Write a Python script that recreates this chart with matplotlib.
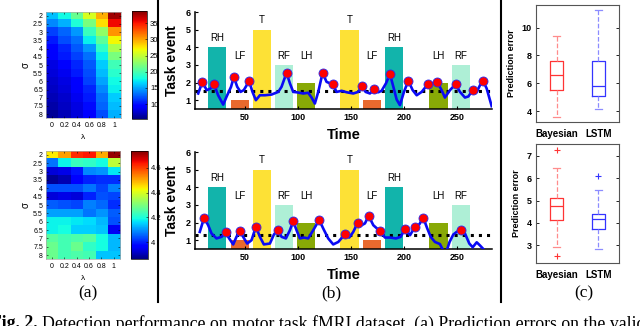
import numpy as np
import matplotlib.pyplot as plt
from matplotlib.lines import Line2D

plt.rcParams['font.family'] = ['Liberation Sans', 'DejaVu Sans']

# ---------------- data ----------------
# (a) prediction error over lambda / sigma grid
lambdas = ['0', '0.2', '0.4', '0.6', '0.8', '1']
sigmas = ['2', '2.5', '3', '3.5', '4', '4.5', '5', '5.5', '6', '6.5', '7', '7.5', '8']

err_grid_1 = [
    [15.8, 17.9, 21.3, 25.8, 29.7, 37.9],
    [14.0, 15.3, 18.4, 22.0, 28.0, 35.5],
    [11.7, 12.9, 14.5, 19.4, 23.0, 30.5],
    [10.4, 12.0, 13.3, 17.4, 20.8, 27.0],
    [9.5, 10.7, 12.4, 14.5, 19.0, 24.0],
    [9.0, 10.3, 11.7, 13.3, 17.4, 22.0],
    [8.3, 9.5, 10.7, 12.4, 16.2, 19.7],
    [8.0, 8.7, 10.3, 12.0, 15.7, 18.7],
    [7.6, 8.3, 9.5, 11.7, 15.0, 17.9],
    [7.3, 8.0, 9.0, 10.7, 14.0, 17.4],
    [7.0, 7.6, 8.7, 10.3, 13.3, 16.2],
    [6.6, 7.3, 8.3, 9.8, 12.9, 15.7],
    [6.0, 7.0, 8.0, 9.5, 12.0, 15.3],
]

err_grid_2 = [
    [4.44, 4.51, 4.62, 4.64, 4.50, 4.72],
    [4.07, 4.18, 4.23, 4.22, 4.19, 4.37],
    [3.93, 3.94, 3.99, 4.09, 4.10, 4.17],
    [3.88, 3.90, 3.96, 4.00, 4.01, 4.01],
    [4.04, 4.04, 4.04, 4.07, 4.03, 4.08],
    [3.93, 3.94, 3.93, 4.00, 4.04, 4.03],
    [4.05, 4.04, 4.03, 4.08, 4.06, 4.01],
    [4.11, 4.11, 4.11, 4.07, 4.10, 4.05],
    [4.18, 4.18, 4.17, 4.16, 4.13, 4.04],
    [4.18, 4.19, 4.15, 4.15, 4.14, 3.95],
    [4.26, 4.24, 4.25, 4.26, 4.19, 4.13],
    [4.28, 4.24, 4.28, 4.22, 4.19, 4.13],
    [4.28, 4.24, 4.25, 4.24, 4.14, 4.14],
]

# (b) task blocks
block_names = ['RH', 'LF', 'T', 'RF', 'LH', 'T', 'LF', 'RH', 'LH', 'RF']
block_start = [15, 36.5, 57.5, 78, 99, 140, 161, 182, 224, 245]
block_height = [4, 1, 5, 3, 2, 5, 1, 4, 2, 3]
block_width = 17.5
block_colors = {'RH': '#12b4ab', 'LF': '#e8692e', 'T': '#fde136',
                'RF': '#aeefd6', 'LH': '#88a906'}
label_y = {'RH': 4.55, 'T': 5.55, 'LF': 3.53, 'RF': 3.53, 'LH': 3.53}

sig1_t = [6, 10, 14, 17.6, 21, 24.8, 29.6, 32.7, 37, 39.6, 42.8, 45.9, 49, 54,
          57.2, 60.4, 64.2, 68.9, 75.2, 81.5, 84.6, 89.3, 92.5, 95.6, 98.7, 105,
          109.7, 112.9, 116, 119.2, 123.3, 127, 132.7, 136.5, 141.2, 145.9, 152.2,
          156.9, 160.7, 163.8, 167.9, 172, 175.8, 178.9, 183, 186.8, 190, 193.1,
          196.2, 200, 204.1, 208.2, 212, 216.7, 222.3, 226.7, 231.4, 235.5, 238.6,
          243.4, 248.7, 252.8, 257.5, 260.7, 264.8, 268.6, 271.7, 274.8, 278, 282.7]
sig1_v = [1.38, 2.04, 1.57, 1.66, 1.89, 1.28, 0.75, 1.19, 1.76, 2.32, 1.76, 1.47, 1.57, 2.08,
          1.47, 1.0, 1.28, 1.28, 1.32, 1.47, 1.76, 2.55, 1.95, 1.47, 1.45, 1.38,
          1.42, 1.15, 0.81, 1.47, 2.55, 2.04, 1.89, 1.47, 1.53, 1.45, 1.38,
          1.47, 1.8, 1.47, 1.38, 1.61, 1.45, 1.53, 1.95, 2.48, 1.76, 1.04,
          0.72, 1.47, 2.1, 1.57, 1.28, 1.47, 1.89, 1.95, 2.02, 1.57, 1.15,
          1.57, 1.91, 1.47, 1.15, 1.21, 1.57, 1.47, 1.85, 2.08, 1.66, 0.66]
peak1_t = [10, 21, 39.6, 54, 89.3, 123.3, 132.7, 160.7, 172, 186.8, 204.1,
           222.3, 231.4, 248.7, 264.8, 274.8]
peak1_v = [2.04, 1.89, 2.32, 2.08, 2.55, 2.55, 1.89, 1.8, 1.61, 2.48, 2.1,
           1.89, 2.02, 1.91, 1.57, 2.08]
thresh1 = 1.52

sig2_t = [7.5, 11.6, 15.4, 18.6, 23.3, 28, 31.8, 35.2, 39, 42.1, 45.3, 48.4, 52.2,
          56.3, 60.4, 64.2, 67.9, 73.6, 77.4, 81.1, 84.6, 88.7, 92.5, 95.6, 98.7,
          101.9, 105.7, 109.7, 114.5, 120.1, 123.9, 128.6, 133.3, 138.1, 144.3,
          148.4, 152.2, 156.3, 160.1, 163.2, 166.7, 171.1, 177.4, 182.1, 186.8,
          192.5, 196.9, 201, 205.7, 210.4, 214.5, 218.2, 222, 225.2, 229.2, 233.9,
          237.1, 240, 243, 246.5, 249.7, 253.8, 257.5, 261.6, 264.8, 268.6, 271.7, 274.8]
sig2_v = [1.47, 2.27, 1.85, 1.38, 1.1, 1.19, 1.44, 1.1, 0.76, 1.19, 1.51, 1.19, 0.81,
          1.0, 1.76, 1.19, 0.76, 0.81, 1.32, 1.59, 1.19, 1.1, 1.57, 2.08, 1.57,
          1.1, 1.15, 1.1, 1.57, 2.15, 1.66, 1.1, 0.76, 0.9, 1.34,
          1.15, 1.47, 1.98, 1.85, 1.95, 2.38, 1.85, 1.51, 1.15, 1.15,
          1.1, 1.19, 1.63, 1.28, 1.76, 1.9, 2.27, 1.66, 1.19, 0.9, 0.78,
          0.4, 0.35, 0.9, 1.32, 1.47, 1.57, 1.38, 0.81, 0.6, 0.88, 0.7, 0.5]
peak2_t = [11.6, 31.8, 45.3, 60.4, 81.1, 95.6, 120.1, 144.3, 156.3, 166.7,
           177.4, 201, 210.4, 218.2, 253.8]
peak2_v = [2.27, 1.44, 1.51, 1.76, 1.59, 2.08, 2.15, 1.34, 1.98, 2.38,
           1.51, 1.63, 1.76, 2.27, 1.57]
thresh2 = 1.27

# (c) prediction error box statistics
methods = ['Bayesian', 'LSTM']
med_1 = [6.6, 5.8]
q1_1 = [5.52, 5.11]
q3_1 = [7.61, 7.58]
lo_1 = [3.59, 4.12]
hi_1 = [9.4, 11.3]
out_1 = [[], []]

med_2 = [4.76, 4.16]
q1_2 = [4.13, 3.71]
q3_2 = [5.09, 4.42]
lo_2 = [2.91, 2.85]
hi_2 = [6.46, 5.49]
out_2 = [[7.26, 2.52], [6.09]]

# ---------------- figure ----------------
W, H = 640, 326
fig = plt.figure(figsize=(6.4, 3.26), dpi=100)


def rect(x0, y0, x1, y1):
    # pixel box (top-left origin) -> figure fraction
    return [x0 / W, (H - y1) / H, (x1 - x0) / W, (y1 - y0) / H]


def heatmap(ax_rect, cb_rect, grid, vmin, vmax, cticks, clabels):
    ax = fig.add_axes(rect(*ax_rect))
    im = ax.imshow(np.array(grid), cmap='jet', vmin=vmin, vmax=vmax,
                   aspect='auto', interpolation='nearest')
    ax.set_xticks(range(len(lambdas)))
    ax.set_xticklabels(lambdas, fontsize=5)
    ax.set_yticks(range(len(sigmas)))
    ax.set_yticklabels(sigmas, fontsize=5)
    ax.tick_params(direction='in', length=1.5, width=0.4, pad=2,
                   right=True, top=True)
    ax.tick_params(axis='x', pad=3)
    for s in ax.spines.values():
        s.set_color('#aaaaaa')
        s.set_linewidth(0.5)
    ax.set_xlabel('λ', fontsize=6, labelpad=3)
    ax.set_ylabel('σ', fontsize=7, labelpad=2)
    cax = fig.add_axes(rect(*cb_rect))
    cb = fig.colorbar(im, cax=cax)
    cb.set_ticks(cticks)
    cb.set_ticklabels(clabels)
    cb.ax.tick_params(labelsize=5.5, length=1.5, width=0.4, direction='in', pad=2)
    cb.outline.set_linewidth(0.5)


heatmap((45.7, 11.7, 120.7, 118.3), (132.3, 10.7, 147.3, 119.3), err_grid_1,
        5.3, 38.9, [10, 15, 20, 25, 30, 35], ['10', '15', '20', '25', '30', '35'])
heatmap((45.7, 150.7, 120, 259.3), (131, 150.7, 147.7, 259.3), err_grid_2,
        3.86, 4.74, [4, 4.2, 4.4, 4.6], ['4', '4.2', '4.4', '4.6'])


def timeline(ax_rect, sig_t, sig_v, pk_t, pk_v, thr):
    ax = fig.add_axes(rect(*ax_rect))
    for name, st, h in zip(block_names, block_start, block_height):
        ax.bar(st, h, width=block_width, align='edge', color=block_colors[name],
               edgecolor='none', zorder=1)
        ax.text(st + block_width / 2, label_y[name], name, ha='center', va='center',
                fontsize=7)
    ax.axhline(thr, color='black', lw=2.2, ls=':', zorder=2)
    ax.plot(sig_t, sig_v, color='#0a0af5', lw=1.9, zorder=3,
            solid_joinstyle='round')
    ax.plot(pk_t, pk_v, 'o', color='#ff0000', ms=6.5, mec='#2a2af0', mew=0.6,
            zorder=4)
    ax.set_xlim(3, 283)
    ax.set_ylim(0.5, 6)
    ax.set_xticks([50, 100, 150, 200, 250])
    ax.set_yticks([1, 2, 3, 4, 5, 6])
    ax.spines['top'].set_visible(False)
    ax.spines['right'].set_visible(False)
    ax.spines['left'].set_linewidth(1.1)
    ax.spines['bottom'].set_linewidth(1.1)
    ax.tick_params(direction='in', length=2.5, width=0.8, labelsize=6.5, pad=3)
    for lab in ax.get_xticklabels() + ax.get_yticklabels():
        lab.set_fontweight('bold')
    ax.set_xlabel('Time', fontsize=10.5, fontweight='bold', labelpad=4)
    ax.set_ylabel('Task event', fontsize=10, fontweight='bold', labelpad=5)


timeline((195, 12, 492, 109), sig1_t, sig1_v, peak1_t, peak1_v, thresh1)
timeline((195, 152, 492, 249), sig2_t, sig2_v, peak2_t, peak2_v, thresh2)


def boxes(ax_rect, med, q1, q3, lo, hi, out, ylim, yticks):
    ax = fig.add_axes(rect(*ax_rect))
    stats = []
    for i in range(len(methods)):
        stats.append(dict(med=med[i], q1=q1[i], q3=q3[i], whislo=lo[i],
                          whishi=hi[i], fliers=out[i], label=methods[i]))
    art = ax.bxp(stats, positions=[1, 2], widths=0.32, capwidths=0.17)
    cols = [('#ff3434', '#ff8c8c'), ('#3434ff', '#8c8cff')]
    for i, (c, cl) in enumerate(cols):
        art['boxes'][i].set(color=c, lw=0.9)
        art['medians'][i].set(color=c, lw=0.9)
        for j in (2 * i, 2 * i + 1):
            art['whiskers'][j].set(color=cl, lw=0.9, ls='--')
            art['caps'][j].set(color=cl, lw=0.9)
        art['fliers'][i].set(marker='+', markeredgecolor=c, markersize=5,
                             markeredgewidth=0.8)
    ax.set_xlim(0.5, 2.5)
    ax.set_ylim(*ylim)
    ax.set_yticks(yticks)
    for s in ax.spines.values():
        s.set_color('#555555')
        s.set_linewidth(0.8)
    ax.tick_params(direction='in', length=2, width=0.6, labelsize=6.5, right=True,
                   pad=3)
    ax.tick_params(axis='x', length=0, labelsize=7, pad=5)
    for lab in ax.get_xticklabels() + ax.get_yticklabels():
        lab.set_fontweight('bold')
    ax.set_ylabel('Prediction error', fontsize=6.5, fontweight='bold', labelpad=4)


boxes((535.7, 4.7, 619, 122.3), med_1, q1_1, q3_1, lo_1, hi_1, out_1,
      (3.2, 11.65), [4, 6, 8, 10])
boxes((535.7, 144, 619, 263.3), med_2, q1_2, q3_2, lo_2, hi_2, out_2,
      (2.2, 7.52), [3, 4, 5, 6, 7])

# separators and panel letters
for xp in (157.5, 500.5):
    fig.add_artist(Line2D([xp / W, xp / W], [1, (H - 302) / H], color='black',
                          lw=1.5, transform=fig.transFigure))

serif = ['Liberation Serif', 'DejaVu Serif']
for lab, xp in (('(a)', 87.5), ('(b)', 331), ('(c)', 584)):
    fig.text(xp / W, (H - 293) / H, lab, ha='center', va='center', fontsize=12.5,
             family=serif)

# caption, cut by the bottom and right edges as in the source
cap_y = (H - 328.5) / H
head = fig.text(-9 / W, cap_y, 'Fig. 2.', fontsize=12.8, fontweight='bold',
                family=serif, va='baseline')
fig.canvas.draw()
head_right = head.get_window_extent().x1
fig.text((head_right + 4) / W, cap_y,
         'Detection performance on motor task fMRI dataset. (a) Prediction errors on the validation set',
         fontsize=12.8, family=serif, va='baseline')

fig.savefig('out.png', dpi=100)
